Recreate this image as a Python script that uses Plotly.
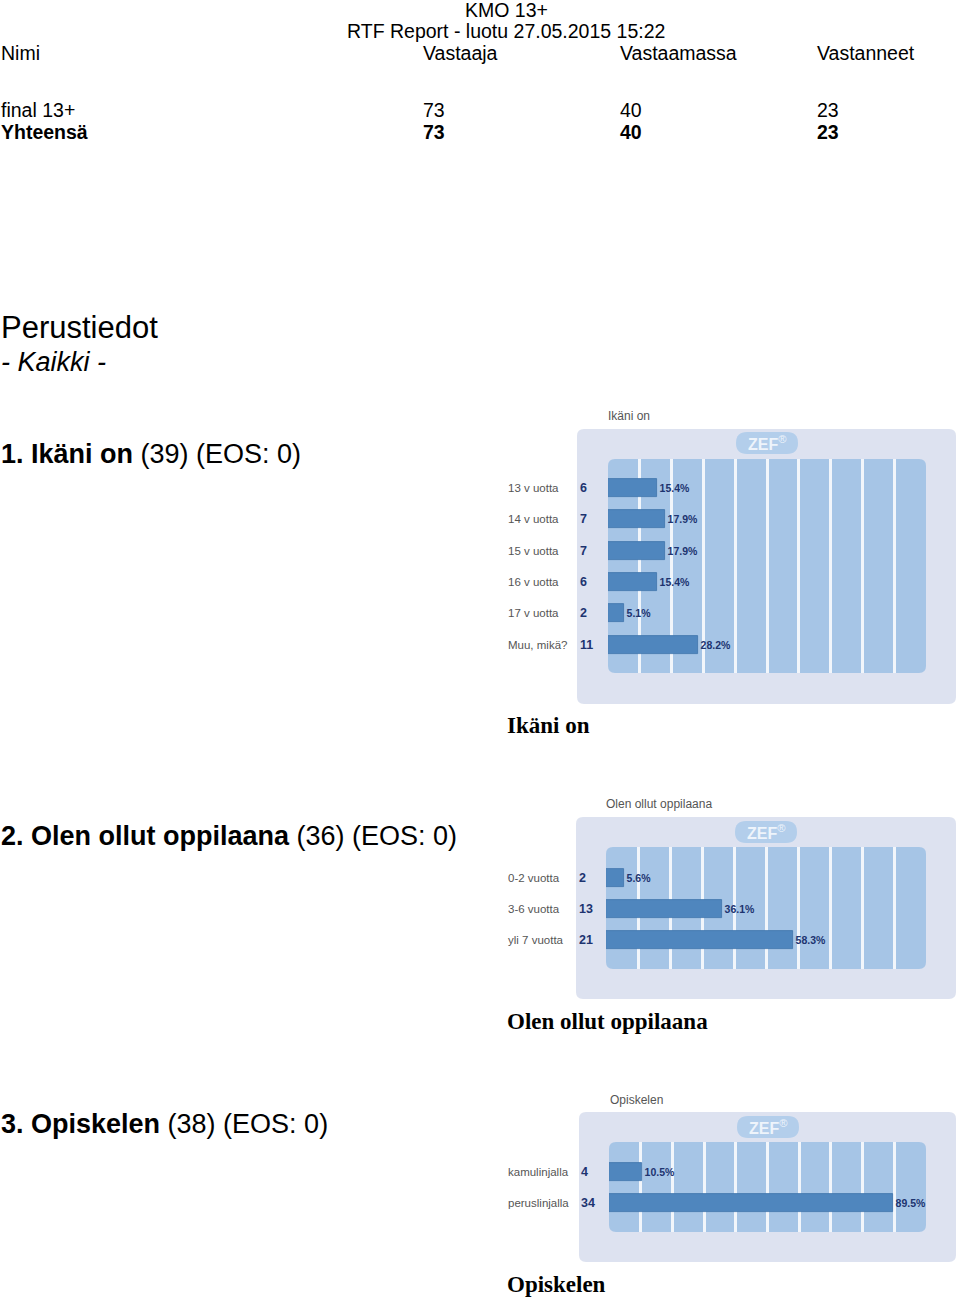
import plotly.graph_objects as go

W, H = 960, 1298

# ---------------- data ----------------
header_cols = ["Nimi", "Vastaaja", "Vastaamassa", "Vastanneet"]
row_final = ["final 13+", "73", "40", "23"]
row_total = ["Yhteensä", "73", "40", "23"]

q1_title = "Ikäni on"
q1_cats = ["13 v uotta", "14 v uotta", "15 v uotta", "16 v uotta", "17 v uotta", "Muu, mikä?"]
q1_counts = [6, 7, 7, 6, 2, 11]
q1_pct = [15.4, 17.9, 17.9, 15.4, 5.1, 28.2]

q2_title = "Olen ollut oppilaana"
q2_cats = ["0-2 vuotta", "3-6 vuotta", "yli 7 vuotta"]
q2_counts = [2, 13, 21]
q2_pct = [5.6, 36.1, 58.3]

q3_title = "Opiskelen"
q3_cats = ["kamulinjalla", "peruslinjalla"]
q3_counts = [4, 34]
q3_pct = [10.5, 89.5]

# ---------------- styling ----------------
SANS = "Liberation Sans, Arial, sans-serif"
SERIF = "Liberation Serif, Times New Roman, serif"
OUTER = "#dde2f0"
INNER = "#a6c5e6"
BAR = "#4f86be"
BADGE = "#b3ceeb"
NAVY = "#1d3470"
GREY = "#555555"


def px(x):
    return x / W


def py(y):
    return 1 - y / H


def rounded(x0, y0, x1, y1, r, color):
    X0, X1 = px(x0), px(x1)
    Y0, Y1 = py(y0), py(y1)
    rx, ry = r / W, r / H
    path = (f"M {X0+rx},{Y0} L {X1-rx},{Y0} Q {X1},{Y0} {X1},{Y0-ry} "
            f"L {X1},{Y1+ry} Q {X1},{Y1} {X1-rx},{Y1} L {X0+rx},{Y1} "
            f"Q {X0},{Y1} {X0},{Y1+ry} L {X0},{Y0-ry} Q {X0},{Y0} {X0+rx},{Y0} Z")
    return dict(type="path", xref="paper", yref="paper", path=path,
                fillcolor=color, line=dict(width=0), layer="below")


charts = [
    dict(title=q1_title, cats=q1_cats, counts=q1_counts, pct=q1_pct,
         outer=(577, 429, 956, 704), inner=(608, 459, 926, 673),
         row0=488, step=31.3, badge=(767, 443), tpos=(608, 416), cntx=580),
    dict(title=q2_title, cats=q2_cats, counts=q2_counts, pct=q2_pct,
         outer=(576, 817, 956, 999), inner=(606, 847, 926, 969),
         row0=877.7, step=31.2, badge=(766, 832), tpos=(606, 804), cntx=579),
    dict(title=q3_title, cats=q3_cats, counts=q3_counts, pct=q3_pct,
         outer=(579, 1112, 956, 1262), inner=(609, 1142, 926, 1232),
         row0=1171.7, step=31.0, badge=(768, 1127), tpos=(610, 1100), cntx=581),
]

fig = go.Figure()
shapes = []
annotations = []
layout_axes = {}

for i, c in enumerate(charts, start=1):
    xa = "x" if i == 1 else f"x{i}"
    ya = "y" if i == 1 else f"y{i}"
    ix0, iy0, ix1, iy1 = c["inner"]
    n = len(c["cats"])
    pad_top = (c["row0"] - iy0) / c["step"]
    pad_bot = (iy1 - (c["row0"] + (n - 1) * c["step"])) / c["step"]

    fig.add_trace(go.Bar(
        x=c["pct"], y=c["cats"], orientation="h",
        xaxis=xa, yaxis=ya,
        marker=dict(color=BAR, line=dict(color="#3f74ab", width=0.8)),
        width=18 / c["step"],
        text=[f"{v:.1f}%" for v in c["pct"]],
        textposition="outside", constraintext="none", cliponaxis=False,
        textfont=dict(family=SANS, size=10.5, color=NAVY, weight="bold"),
        hoverinfo="skip", showlegend=False,
    ))

    layout_axes["xaxis" if i == 1 else f"xaxis{i}"] = dict(
        domain=[px(ix0), px(ix1)], range=[0, 100], anchor=ya,
        tickvals=[10, 20, 30, 40, 50, 60, 70, 80, 90],
        showticklabels=False, showgrid=True, gridcolor="#f2f6fb", gridwidth=2.5,
        zeroline=False, showline=False, ticks="", fixedrange=True,
    )
    layout_axes["yaxis" if i == 1 else f"yaxis{i}"] = dict(
        domain=[py(iy1), py(iy0)], anchor=xa, type="category",
        categoryorder="array", categoryarray=c["cats"],
        range=[n - 1 + pad_bot, -pad_top],
        showticklabels=False, showgrid=False, zeroline=False, showline=False,
        ticks="", fixedrange=True,
    )

    ox0, oy0, ox1, oy1 = c["outer"]
    shapes.append(rounded(ox0, oy0, ox1, oy1, 7, OUTER))
    shapes.append(rounded(ix0, iy0, ix1, iy1, 7, INNER))
    bx, by = c["badge"]
    shapes.append(rounded(bx - 31, by - 11, bx + 31, by + 11, 11, BADGE))
    annotations.append(dict(x=px(bx), y=py(by), xref="paper", yref="paper",
                            text="<b>ZEF</b><sup>®</sup>",
                            showarrow=False, borderpad=0, borderwidth=0,
                            font=dict(family=SANS, size=16, color="#eef4fb"),
                            xanchor="center", yanchor="middle"))
    tx, ty = c["tpos"]
    annotations.append(dict(x=px(tx), y=py(ty), xref="paper", yref="paper",
                            text=c["title"], showarrow=False,
                            borderpad=0, borderwidth=0,
                            font=dict(family=SANS, size=12, color=GREY),
                            xanchor="left", yanchor="middle"))
    for cat, cnt in zip(c["cats"], c["counts"]):
        annotations.append(dict(x=px(508), y=cat, xref="paper", yref=ya,
                                text=cat, showarrow=False,
                                borderpad=0, borderwidth=0,
                                font=dict(family=SANS, size=11.5, color=GREY),
                                xanchor="left", yanchor="middle"))
        annotations.append(dict(x=px(c["cntx"]), y=cat, xref="paper", yref=ya,
                                text=f"<b>{cnt}</b>", showarrow=False,
                                borderpad=0, borderwidth=0,
                                font=dict(family=SANS, size=12.5, color=NAVY),
                                xanchor="left", yanchor="middle"))


def txt(x, y, text, size, anchor="left", family=SANS, color="#000000"):
    annotations.append(dict(x=px(x), y=py(y), xref="paper", yref="paper",
                            text=text, showarrow=False,
                            borderpad=0, borderwidth=0,
                            font=dict(family=family, size=size, color=color),
                            xanchor=anchor, yanchor="middle"))


# header
txt(506, 10, "KMO 13+", 19.5, anchor="center")
txt(506, 31, "RTF Report - luotu 27.05.2015 15:22", 19.5, anchor="center")
col_x = [1, 423, 620, 817]
for x, t in zip(col_x, header_cols):
    txt(x, 53, t, 19.5)
for x, t in zip(col_x, row_final):
    txt(x, 110, t, 19.5)
for x, t in zip(col_x, row_total):
    txt(x, 132, f"<b>{t}</b>", 19.5)

# section headings
txt(1, 328, "Perustiedot", 31)
txt(1, 362, "<i>- Kaikki -</i>", 27)
txt(1, 454, "<b>1. Ikäni on</b> (39) (EOS: 0)", 27)
txt(1, 836, "<b>2. Olen ollut oppilaana</b> (36) (EOS: 0)", 27)
txt(1, 1124, "<b>3. Opiskelen</b> (38) (EOS: 0)", 27)

# serif captions
txt(507, 726, f"<b>{q1_title}</b>", 23, family=SERIF)
txt(507, 1021, f"<b>{q2_title}</b>", 23, family=SERIF)
txt(507, 1284, f"<b>{q3_title}</b>", 23, family=SERIF)

fig.update_layout(
    width=W, height=H,
    margin=dict(l=0, r=0, t=0, b=0),
    paper_bgcolor="white", plot_bgcolor="rgba(0,0,0,0)",
    shapes=shapes, annotations=annotations,
    bargap=0, showlegend=False,
    **layout_axes,
)

fig.write_html("out.html", config={"displayModeBar": False})
